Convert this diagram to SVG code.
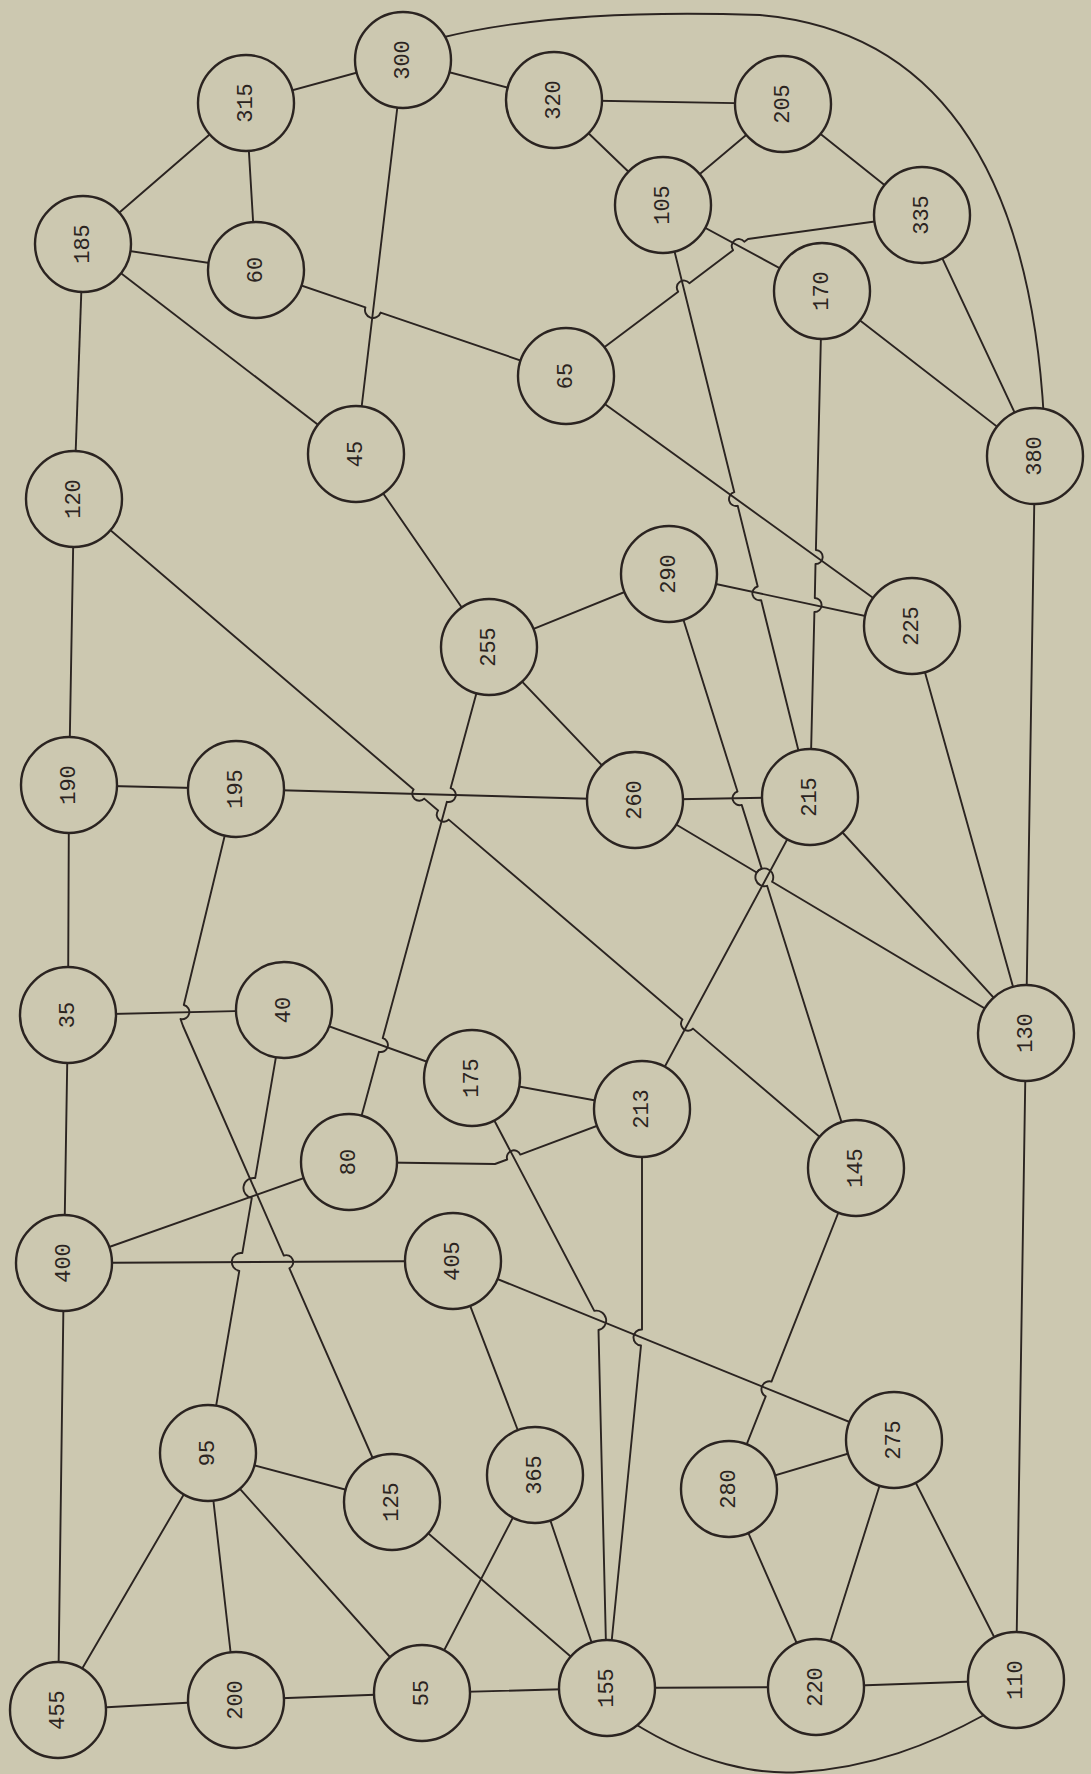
<svg xmlns="http://www.w3.org/2000/svg" width="1091" height="1774" viewBox="0 0 1091 1774">
<style>
.bg{fill:#ccc8b0}
.e path{fill:none;stroke:#2b2421;stroke-width:1.9;stroke-linejoin:round;stroke-linecap:round}
.n circle{fill:#ccc8b0;stroke:#2b2421;stroke-width:2.4}
.n text{font-family:"Liberation Mono","DejaVu Sans Mono",monospace;font-size:22px;fill:#2b2421;text-anchor:middle;dominant-baseline:central}
</style>
<rect class="bg" x="0" y="0" width="1091" height="1774"/>
<g id="connectors" class="e">
<path d="M83,244 L246,103"/>
<path d="M83,244 L256,270"/>
<path d="M83,244 L74,499"/>
<path d="M83,244 L356,454"/>
<path d="M246,103 L256,270"/>
<path d="M246,103 L403,60"/>
<path d="M403,60 L554,100"/>
<path d="M403,60 L356,454"/>
<path d="M440,38 Q560,8 760,15 C930,30 1030,160 1044,420"/>
<path d="M554,100 L783,104"/>
<path d="M554,100 L663,205"/>
<path d="M783,104 L663,205"/>
<path d="M783,104 L922,215"/>
<path d="M663,205 L822,291"/>
<path d="M663,205 L734.3,492.2 A7,7 0 0 0 737.7,505.8 L757.7,586.5 A7,7 0 0 0 761.1,600.1 L810,797"/>
<path d="M922,215 L748,239 L744.3,241.8 A7,7 0 0 0 733.1,250.2 L689.4,283.3 A7,7 0 0 0 678.2,291.7 L566,376"/>
<path d="M922,215 L1035,456"/>
<path d="M822,291 L1035,456"/>
<path d="M822,291 L815.9,550 A7,7 0 0 1 815.5,564 L814.8,598 A7,7 0 0 1 814.4,612 L810,797"/>
<path d="M256,270 L365.4,307.4 A8,8 0 0 0 380.6,312.6 L566,376"/>
<path d="M566,376 L912,626"/>
<path d="M356,454 L489,647"/>
<path d="M1035,456 L1026,1033"/>
<path d="M74,499 L69,785"/>
<path d="M74,499 L413.6,789.5 A7,7 0 0 0 424.2,798.6 L438.1,810.5 A7,7 0 0 0 448.7,819.6 L682.4,1019.5 A7,7 0 0 0 693,1028.6 L856,1168"/>
<path d="M669,574 L489,647"/>
<path d="M669,574 L912,626"/>
<path d="M669,574 L737.5,791.5 A7,7 0 0 0 741.7,804.9 L761.7,868.6 A9,9 0 0 0 767.1,885.8 L856,1168"/>
<path d="M912,626 L1026,1033"/>
<path d="M489,647 L635,800"/>
<path d="M489,647 L450.6,788.2 A7,7 0 0 1 446.9,801.8 L382.7,1038.2 A7,7 0 0 1 379,1051.8 L349,1162"/>
<path d="M69,785 L236,789"/>
<path d="M69,785 L68,1015"/>
<path d="M236,789 L635,800"/>
<path d="M236,789 L183.8,1005 A7,7 0 0 1 180.5,1019 L183,1026 L283.8,1255.6 A7,7 0 0 1 289.4,1268.4 L392,1502"/>
<path d="M635,800 L810,797"/>
<path d="M635,800 L756.7,872.5 A9,9 0 0 1 772.1,881.8 L1026,1033"/>
<path d="M810,797 L1026,1033"/>
<path d="M810,797 L642,1109"/>
<path d="M68,1015 L284,1010"/>
<path d="M68,1015 L64,1263"/>
<path d="M284,1010 L472,1078"/>
<path d="M284,1010 L255.2,1178.1 A10,10 0 0 0 251.8,1197.9 L242.3,1253.1 A9,9 0 0 0 239.3,1270.9 L208,1453"/>
<path d="M472,1078 L642,1109"/>
<path d="M472,1078 L594.3,1310.9 A9,9 0 0 1 598.5,1330 L607,1688"/>
<path d="M349,1162 L495,1164 L507.2,1159.5 A7,7 0 0 1 520.3,1154.6 L642,1109"/>
<path d="M642,1109 L642,1329.5 A8,8 0 0 0 641,1345.5 L607,1688"/>
<path d="M349,1162 L64,1263"/>
<path d="M856,1168 L771.5,1381.6 A8,8 0 0 0 765.7,1396.4 L729,1489"/>
<path d="M64,1263 L453,1261"/>
<path d="M64,1263 L58,1710"/>
<path d="M453,1261 L894,1440"/>
<path d="M453,1261 L535,1475"/>
<path d="M208,1453 L58,1710"/>
<path d="M208,1453 L236,1700"/>
<path d="M208,1453 L422,1693"/>
<path d="M208,1453 L392,1502"/>
<path d="M392,1502 L607,1688"/>
<path d="M535,1475 L422,1693"/>
<path d="M535,1475 L607,1688"/>
<path d="M894,1440 L729,1489"/>
<path d="M894,1440 L816,1687"/>
<path d="M894,1440 L1016,1680"/>
<path d="M729,1489 L816,1687"/>
<path d="M1026,1033 L1016,1680"/>
<path d="M58,1710 L236,1700"/>
<path d="M236,1700 L422,1693"/>
<path d="M422,1693 L607,1688"/>
<path d="M607,1688 L816,1687"/>
<path d="M816,1687 L1016,1680"/>
<path d="M632,1722 C700,1765 760,1775 800,1772 C870,1768 930,1745 986,1714"/>
</g>
<g id="n185" class="n"><circle cx="83" cy="244" r="48"/><text transform="translate(83,244) rotate(-90)">185</text></g>
<g id="n315" class="n"><circle cx="246" cy="103" r="48"/><text transform="translate(246,103) rotate(-90)">315</text></g>
<g id="n300" class="n"><circle cx="403" cy="60" r="48"/><text transform="translate(403,60) rotate(-90)">300</text></g>
<g id="n320" class="n"><circle cx="554" cy="100" r="48"/><text transform="translate(554,100) rotate(-90)">320</text></g>
<g id="n205" class="n"><circle cx="783" cy="104" r="48"/><text transform="translate(783,104) rotate(-90)">205</text></g>
<g id="n105" class="n"><circle cx="663" cy="205" r="48"/><text transform="translate(663,205) rotate(-90)">105</text></g>
<g id="n335" class="n"><circle cx="922" cy="215" r="48"/><text transform="translate(922,215) rotate(-90)">335</text></g>
<g id="n60" class="n"><circle cx="256" cy="270" r="48"/><text transform="translate(256,270) rotate(-90)">60</text></g>
<g id="n170" class="n"><circle cx="822" cy="291" r="48"/><text transform="translate(822,291) rotate(-90)">170</text></g>
<g id="n65" class="n"><circle cx="566" cy="376" r="48"/><text transform="translate(566,376) rotate(-90)">65</text></g>
<g id="n45" class="n"><circle cx="356" cy="454" r="48"/><text transform="translate(356,454) rotate(-90)">45</text></g>
<g id="n380" class="n"><circle cx="1035" cy="456" r="48"/><text transform="translate(1035,456) rotate(-90)">380</text></g>
<g id="n120" class="n"><circle cx="74" cy="499" r="48"/><text transform="translate(74,499) rotate(-90)">120</text></g>
<g id="n290" class="n"><circle cx="669" cy="574" r="48"/><text transform="translate(669,574) rotate(-90)">290</text></g>
<g id="n225" class="n"><circle cx="912" cy="626" r="48"/><text transform="translate(912,626) rotate(-90)">225</text></g>
<g id="n255" class="n"><circle cx="489" cy="647" r="48"/><text transform="translate(489,647) rotate(-90)">255</text></g>
<g id="n190" class="n"><circle cx="69" cy="785" r="48"/><text transform="translate(69,785) rotate(-90)">190</text></g>
<g id="n195" class="n"><circle cx="236" cy="789" r="48"/><text transform="translate(236,789) rotate(-90)">195</text></g>
<g id="n260" class="n"><circle cx="635" cy="800" r="48"/><text transform="translate(635,800) rotate(-90)">260</text></g>
<g id="n215" class="n"><circle cx="810" cy="797" r="48"/><text transform="translate(810,797) rotate(-90)">215</text></g>
<g id="n35" class="n"><circle cx="68" cy="1015" r="48"/><text transform="translate(68,1015) rotate(-90)">35</text></g>
<g id="n40" class="n"><circle cx="284" cy="1010" r="48"/><text transform="translate(284,1010) rotate(-90)">40</text></g>
<g id="n130" class="n"><circle cx="1026" cy="1033" r="48"/><text transform="translate(1026,1033) rotate(-90)">130</text></g>
<g id="n175" class="n"><circle cx="472" cy="1078" r="48"/><text transform="translate(472,1078) rotate(-90)">175</text></g>
<g id="n213" class="n"><circle cx="642" cy="1109" r="48"/><text transform="translate(642,1109) rotate(-90)">213</text></g>
<g id="n80" class="n"><circle cx="349" cy="1162" r="48"/><text transform="translate(349,1162) rotate(-90)">80</text></g>
<g id="n145" class="n"><circle cx="856" cy="1168" r="48"/><text transform="translate(856,1168) rotate(-90)">145</text></g>
<g id="n400" class="n"><circle cx="64" cy="1263" r="48"/><text transform="translate(64,1263) rotate(-90)">400</text></g>
<g id="n405" class="n"><circle cx="453" cy="1261" r="48"/><text transform="translate(453,1261) rotate(-90)">405</text></g>
<g id="n95" class="n"><circle cx="208" cy="1453" r="48"/><text transform="translate(208,1453) rotate(-90)">95</text></g>
<g id="n125" class="n"><circle cx="392" cy="1502" r="48"/><text transform="translate(392,1502) rotate(-90)">125</text></g>
<g id="n365" class="n"><circle cx="535" cy="1475" r="48"/><text transform="translate(535,1475) rotate(-90)">365</text></g>
<g id="n275" class="n"><circle cx="894" cy="1440" r="48"/><text transform="translate(894,1440) rotate(-90)">275</text></g>
<g id="n280" class="n"><circle cx="729" cy="1489" r="48"/><text transform="translate(729,1489) rotate(-90)">280</text></g>
<g id="n455" class="n"><circle cx="58" cy="1710" r="48"/><text transform="translate(58,1710) rotate(-90)">455</text></g>
<g id="n200" class="n"><circle cx="236" cy="1700" r="48"/><text transform="translate(236,1700) rotate(-90)">200</text></g>
<g id="n55" class="n"><circle cx="422" cy="1693" r="48"/><text transform="translate(422,1693) rotate(-90)">55</text></g>
<g id="n155" class="n"><circle cx="607" cy="1688" r="48"/><text transform="translate(607,1688) rotate(-90)">155</text></g>
<g id="n220" class="n"><circle cx="816" cy="1687" r="48"/><text transform="translate(816,1687) rotate(-90)">220</text></g>
<g id="n110" class="n"><circle cx="1016" cy="1680" r="48"/><text transform="translate(1016,1680) rotate(-90)">110</text></g>
</svg>
